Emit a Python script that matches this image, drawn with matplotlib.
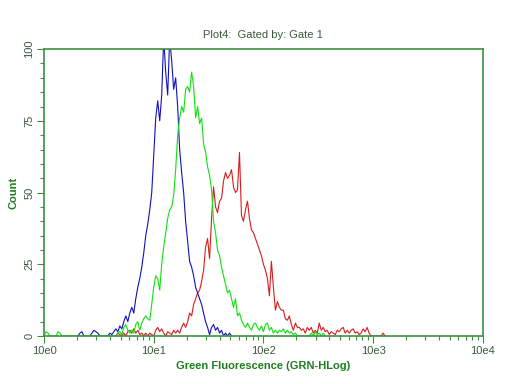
import matplotlib
matplotlib.use("Agg")
from matplotlib import pyplot as plt
from matplotlib.ticker import LogLocator, NullFormatter, MultipleLocator
import numpy as np

plt.rcParams['font.family'] = ['Liberation Sans', 'DejaVu Sans']

# channels: 55 channels per decade, channel k -> 10**(k/55)
CH_PER_DECADE = 55

# blue histogram (starts at channel 17)
blue_start = 17
blue_counts = [0, 1, 1.5, 0, 0, 0, 0, 1, 2, 1.5, 1, 0, 0, 0, 0, 0,
               1, 0.5, 1.5, 2.5, 1.5, 3.5, 2.5, 5, 7, 5, 8, 10, 8, 13, 17, 20,
               24, 29, 35, 39, 44, 50, 63, 76, 82, 75, 84, 104, 92, 84, 104, 96,
               86, 90, 80, 65, 57, 50, 40, 33, 26, 24, 21, 17, 15, 13, 11, 8,
               5, 3, 0.5, 3, 4, 2, 3, 1, 2, 0, 1, 0, 1, 0]

# green histogram (starts at channel 0)
green_start = 0
green_counts = [0, 1.5, 1, 0, 0, 0, 0, 1.5, 1, 0] + [0] * 27 + \
               [1, 1.5, 0.5, 3, 4, 2, 1, 2, 1, 4, 5, 2, 4.5, 6, 7, 6, 5.5,
                11, 17, 21, 20, 16, 25, 31, 36, 41, 44, 45, 49, 58, 70, 76, 80,
                78, 86, 87, 85, 92, 87, 76, 80, 74, 76, 67, 64, 59, 56, 51, 40,
                36, 30, 28, 24, 21, 18, 15, 16, 13, 10, 13, 7, 8, 5.5, 4, 3,
                4.5, 3, 2, 4, 4.5, 3, 2, 3.5, 1.5, 4, 4.5, 2, 3, 1, 2, 1,
                2, 1.5, 2.5, 1, 2, 1, 1.5, 0.5, 1, 0, 0, 0, 0, 0, 0, 0,
                1, 0, 1.5, 0.5, 1, 0, 1, 0]

# red histogram (starts at channel 36)
red_start = 36
red_counts = [0, 1, 0.5, 0, 1, 0, 1.5, 2, 1, 2.5, 1, 2, 0.5, 1, 0, 1,
              0, 1, 0.5, 0, 2, 3, 1.5, 2.5, 1, 0, 1.5, 1, 0.5, 2, 1, 2,
              1, 3, 4.5, 3, 5, 8, 7, 11, 13, 15, 16, 19, 23, 31, 34, 27,
              41, 52, 45, 43, 47, 48, 54, 57, 55, 56, 58, 52, 50, 51, 64, 42,
              40, 44, 47, 41, 37, 36, 34, 32, 30, 28, 25, 23, 20, 14, 26, 17,
              9, 12, 10, 9, 9, 6, 5.5, 7, 4, 2, 4.5, 3, 3, 2, 2.5, 1,
              3, 2, 3, 1, 2, 1, 4.5, 2, 3, 1.5, 2, 0.5, 1.5, 1, 0.5, 2,
              1.5, 2.5, 3, 1, 2, 1, 2, 2.5, 1, 1.5, 0.5, 1, 2.5, 1.5, 3, 1,
              0, 0, 0, 0, 0, 0, 1, 0]

title = "Plot4:  Gated by: Gate 1"
xlabel = "Green Fluorescence (GRN-HLog)"
ylabel = "Count"
xtick_labels = ["10e0", "10e1", "10e2", "10e3", "10e4"]

frame = '#3f8f3f'
label_green = '#1e7d1e'
text_dark = '#3a5a3a'

fig = plt.figure(figsize=(5.12, 3.84), dpi=100)
ax = fig.add_axes([0.086, 0.125, 0.857, 0.747])


def channels_to_x(start, counts):
    k = np.arange(start, start + len(counts))
    return 10 ** (k / CH_PER_DECADE)


ax.plot(channels_to_x(red_start, red_counts), red_counts, color='#d81c1c', lw=0.8)
ax.plot(channels_to_x(blue_start, blue_counts), blue_counts, color='#1010c0', lw=0.8)
ax.plot(channels_to_x(green_start, green_counts), green_counts, color='#10e010', lw=0.8)

ax.set_xscale('log')
ax.set_xlim(1, 1e4)
ax.set_ylim(0, 100)

ax.set_xticks([1, 10, 100, 1000, 10000])
ax.set_xticklabels(xtick_labels)
ax.xaxis.set_minor_locator(LogLocator(base=10, subs=np.arange(2, 10)))
ax.xaxis.set_minor_formatter(NullFormatter())

ax.set_yticks([0, 25, 50, 75, 100])
ax.yaxis.set_minor_locator(MultipleLocator(5))
for lbl in ax.get_yticklabels():
    lbl.set_rotation(90)
    lbl.set_va('center')

ax.tick_params(which='major', direction='out', length=5, width=0.8, color=frame,
               labelsize=8, labelcolor=text_dark, pad=2)
ax.tick_params(which='minor', direction='out', length=3, width=0.8, color=frame)

for s in ax.spines.values():
    s.set_color(frame)
    s.set_linewidth(1.2)

ax.set_title(title, fontsize=8, color=text_dark, pad=8)
ax.set_xlabel(xlabel, fontsize=8, fontweight='bold', color=label_green, labelpad=4)
ax.set_ylabel(ylabel, fontsize=8, fontweight='bold', color=label_green, labelpad=4)

fig.savefig('out.png', dpi=100)
